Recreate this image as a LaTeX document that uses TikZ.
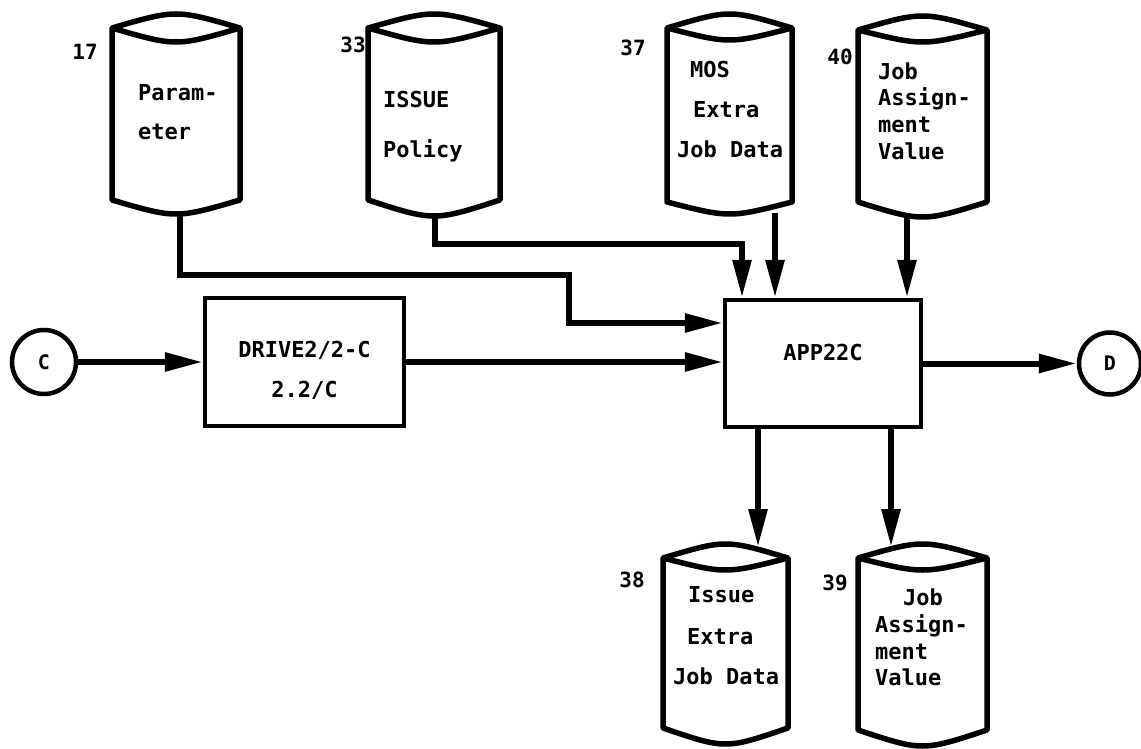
\documentclass[tikz,border=0pt]{standalone}
\usepackage{fontspec}
\usetikzlibrary{arrows.meta,calc}
\newfontfamily\lpf{DejaVu Sans Mono}
\newcommand{\dbcyl}[7]{% L R ytop ycorner yinner ybotcorner ybottom
  \draw[cylline] (#1,#6) -- (#1,#4) .. controls ({(#1+#2)/2},{#4-(#4-#3)*4/3}) .. (#2,#4) -- (#2,#6) .. controls ({(#1+#2)/2},{#6+(#7-#6)*4/3}) .. (#1,#6) -- cycle;
  \draw[cylline] (#1,#4) .. controls ({(#1+#2)/2},{#4+(#5-#4)*4/3}) .. (#2,#4);
}
\newcommand{\ctext}[4]{\node[ctxt] (#1) at (#2,{#3+7.5}) {#4};}
\begin{document}
\begin{tikzpicture}[x=1pt,y=-1pt,
  cylline/.style={line width=5.5pt,line join=round},
  ctxt/.style={anchor=base west,inner sep=0pt,font=\lpf\bfseries\fontsize{22}{26}\selectfont},
  num/.style={inner sep=0pt,font=\lpf\bfseries\fontsize{21}{26}\selectfont},
  box/.style={draw,line width=4.5pt,inner sep=0pt},
  conn/.style={draw,line width=4.5pt,inner sep=0pt,circle,font=\lpf\bfseries\fontsize{20}{24}\selectfont},
  arr/.style={line width=6pt,-{Triangle[length=38pt,width=18pt]}},
  ln/.style={line width=6pt}]
\fill[white] (0,0) rectangle (1141,749);
\useasboundingbox (0,0) rectangle (1141,749);

% cylinders
\dbcyl{112}{240}{14}{28}{42}{200}{214}
\dbcyl{368}{500}{14}{28}{42}{200}{216}
\dbcyl{667}{792}{14}{28}{40}{202}{214}
\dbcyl{858}{987}{16}{30}{42}{202}{217}
\dbcyl{663}{788}{544}{558}{570}{728}{744}
\dbcyl{858}{987}{544}{558}{570}{730}{746}

% cylinder texts
\ctext{t17a}{138}{93}{Param-}
\ctext{t17b}{138}{132}{eter}
\ctext{t33a}{383}{100}{ISSUE}
\ctext{t33b}{383}{150}{Policy}
\ctext{t37a}{690}{70}{MOS}
\ctext{t37b}{693}{110}{Extra}
\ctext{t37c}{677}{150}{Job Data}
\ctext{t40a}{878}{72}{Job}
\ctext{t40b}{878}{98}{Assign-}
\ctext{t40c}{878}{125}{ment}
\ctext{t40d}{878}{152}{Value}
\ctext{t38a}{688}{595}{Issue}
\ctext{t38b}{687}{637}{Extra}
\ctext{t38c}{673}{677}{Job Data}
\ctext{t39a}{903}{598}{Job}
\ctext{t39b}{875}{625}{Assign-}
\ctext{t39c}{875}{652}{ment}
\ctext{t39d}{875}{678}{Value}

% numbers
\node[num] (n17) at (85,52) {17};
\node[num] (n33) at (353,45) {33};
\node[num] (n37) at (633,48) {37};
\node[num] (n40) at (840,57) {40};
\node[num] (n38) at (632,580) {38};
\node[num] (n39) at (835,583) {39};

% boxes and connectors
\node[box,minimum width=199pt,minimum height=128pt] (drive) at (304.5,362) {};
\node[ctxt,anchor=center,align=center] (drivet) at (304.5,370) {DRIVE2/2-C\\[14pt]2.2/C};
\node[box,minimum width=196pt,minimum height=127pt] (app) at (823,363.5) {};
\node[ctxt,anchor=center] (appt) at (823,352) {APP22C};
\node[conn,minimum size=64pt] (C) at (44,362) {C};
\node[conn,minimum size=62pt] (D) at (1110,363.5) {D};

% stem coordinates
\coordinate (b17) at (180,214);
\coordinate (b33) at (435,216);
\coordinate (b37) at (775,213);
\coordinate (b40) at (907,217);
\coordinate (k1) at (569,275);
\coordinate (k2) at (742,244);
\coordinate (t38) at (758,547);
\coordinate (t39) at (891,547);

\draw[arr] (C) -- (drive.west);
\draw[arr] (drive.east) -- (drive.east -| app.west);
\draw[arr] (app.east) -- (D);
\draw[arr] (b17) |- (k1) |- ([yshift=40.5pt]app.west);
\draw[arr] (b33) |- (k2) -- (k2 |- app.north);
\draw[arr] (b37) -- (b37 |- app.north);
\draw[arr] (b40) -- (b40 |- app.north);
\draw[arr] (app.south -| t38) -- (t38);
\draw[arr] (app.south -| t39) -- (t39);
\end{tikzpicture}
\end{document}
